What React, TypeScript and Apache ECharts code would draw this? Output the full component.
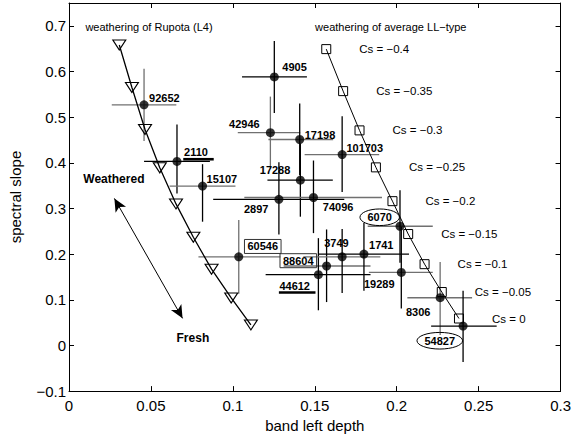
import React, { useEffect, useRef } from "react";
import * as echarts from "echarts";

// ---- meteorite samples (band left depth, spectral slope) with error ranges ----
const sampleNames = ["92652", "4905", "42946", "2110", "15107", "17198", "101703", "17288", "2897", "74096", "60546", "88604", "44612", "3749", "1741", "6070", "19289", "8306", "54827"];
const bandDepth = [0.0458, 0.1253, 0.1229, 0.0659, 0.0815, 0.1408, 0.1667, 0.1412, 0.1281, 0.1492, 0.1036, 0.1572, 0.1522, 0.1667, 0.180, 0.202, 0.2028, 0.2265, 0.2405];
const slope = [0.527, 0.588, 0.466, 0.403, 0.349, 0.451, 0.418, 0.362, 0.320, 0.324, 0.194, 0.174, 0.155, 0.194, 0.200, 0.261, 0.160, 0.1045, 0.0425];
const depthLow = [0.0261, 0.1056, 0.1030, 0.0458, 0.0614, 0.1217, 0.1438, 0.1211, 0.088, 0.107, 0.079, 0.131, 0.120, 0.143, 0.1524, 0.1823, 0.183, 0.2065, 0.221];
const depthHigh = [0.0655, 0.1452, 0.1411, 0.086, 0.1016, 0.1612, 0.1893, 0.1610, 0.168, 0.191, 0.129, 0.184, 0.184, 0.19, 0.2075, 0.222, 0.222, 0.246, 0.261];
const slopeLow = [0.448, 0.509, 0.387, 0.333, 0.271, 0.373, 0.336, 0.282, 0.243, 0.246, 0.113, 0.095, 0.077, 0.115, 0.120, 0.181, 0.081, 0.023, -0.036];
const slopeHigh = [0.606, 0.667, 0.545, 0.484, 0.397, 0.530, 0.502, 0.442, 0.401, 0.405, 0.275, 0.254, 0.235, 0.255, 0.268, 0.340, 0.260, 0.183, 0.120];

// ---- weathering model of Rupota (L4) ----
const rupotaDepth = [0.0307, 0.0384, 0.0464, 0.0554, 0.0653, 0.0759, 0.0870, 0.099, 0.111];
const rupotaSlope = [0.658, 0.565, 0.473, 0.389, 0.310, 0.237, 0.167, 0.104, 0.045];

// ---- weathering model of average LL-type ----
const llDepth = [0.157, 0.1673, 0.1773, 0.1873, 0.1974, 0.207, 0.217, 0.2275, 0.238];
const llSlope = [0.649, 0.557, 0.471, 0.390, 0.316, 0.244, 0.178, 0.117, 0.059];
const csLabels = ["Cs = \u22120.4", "Cs = \u22120.35", "Cs = \u22120.3", "Cs = \u22120.25", "Cs = \u22120.2", "Cs = \u22120.15", "Cs = \u22120.1", "Cs = \u22120.05", "Cs = 0"];

// ---- annotations ----
const noteTexts = ["weathering of Rupota (L4)", "weathering of average LL\u2212type", "Weathered", "Fresh"];
const noteDepth = [0.010, 0.1502, 0.0274, 0.0756];
const noteSlope = [0.698, 0.698, 0.365, 0.016];
const arrowStart = [0.0277, 0.322];
const arrowEnd = [0.0693, 0.0593];

// ---- styling (kept apart from data) ----
const GRAY = "#707070";
const BLACK = "#000";
const hBarColor = [GRAY, BLACK, GRAY, BLACK, GRAY, GRAY, GRAY, BLACK, BLACK, GRAY, GRAY, GRAY, BLACK, GRAY, BLACK, GRAY, GRAY, GRAY, BLACK];
const vBarColor = [GRAY, BLACK, GRAY, BLACK, BLACK, BLACK, BLACK, BLACK, BLACK, BLACK, GRAY, BLACK, BLACK, BLACK, BLACK, BLACK, BLACK, GRAY, BLACK];
// label centre offsets in px from the point, plus decoration type
const labelOffset: [number, number][] = [
  [20.3, -6.7], [20.2, -10], [-26, -8.3], [19, -9], [19.3, -7.3], [20.3, -5], [22.6, -7],
  [-25.3, -10.6], [-22.7, 9.4], [24.6, 9.3], [24, -10.4], [-28.3, -5.3], [-23.7, 11],
  [-5.7, -14], [17.3, -9.3], [-20.3, -9], [-22, 11.6], [-22, 14.4], [-23.3, 14.7],
];
const labelDeco = ["", "", "", "underline", "", "", "", "", "", "", "box", "box", "underline", "", "", "ellipse", "", "", "ellipse"];
const noteStyle = [
  { font: '11px "Liberation Sans", Arial, sans-serif', align: "left" },
  { font: '11px "Liberation Sans", Arial, sans-serif', align: "left" },
  { font: 'bold 12px "Liberation Sans", Arial, sans-serif', align: "center" },
  { font: 'bold 12px "Liberation Sans", Arial, sans-serif', align: "center" },
];

const FONT = '"Liberation Sans", Arial, sans-serif';

export default function App() {
  const ref = useRef<HTMLDivElement>(null);

  useEffect(() => {
    document.body.style.margin = "0";
    if (!ref.current) return;
    const chart = echarts.init(ref.current, undefined, { renderer: "svg" });

    const errData = sampleNames.map((_, i) => [bandDepth[i], slope[i], depthLow[i], depthHigh[i], slopeLow[i], slopeHigh[i]]);
    const pointData = sampleNames.map((_, i) => [bandDepth[i], slope[i]]);

    const frameAxis = {
      axisLine: { show: true, onZero: false, lineStyle: { color: "#000", width: 1 } },
      axisTick: { show: true, inside: true, length: 5, lineStyle: { color: "#000" } },
      splitLine: { show: false },
    };

    const option: any = {
      animation: false,
      backgroundColor: "#fff",
      grid: { left: 64, right: 12, top: 3, bottom: 41 },
      xAxis: [
        {
          type: "value", min: 0, max: 0.3, interval: 0.05, position: "bottom",
          ...frameAxis,
          axisLabel: {
            color: "#000", fontSize: 15, fontFamily: FONT, margin: 7,
            formatter: (v: number) => (Math.abs(v) < 1e-9 ? "0" : String(+v.toFixed(2))),
          },
          name: "band left depth", nameLocation: "middle", nameGap: 25,
          nameTextStyle: { color: "#000", fontSize: 15, fontFamily: FONT },
        },
        { type: "value", min: 0, max: 0.3, interval: 0.05, position: "top", ...frameAxis, axisLabel: { show: false } },
      ],
      yAxis: [
        {
          type: "value", min: -0.1, max: 0.75, interval: 0.1, position: "left",
          ...frameAxis,
          axisLabel: {
            color: "#000", fontSize: 15, fontFamily: FONT, margin: 3,
            formatter: (v: number) => {
              if (v > 0.71) return "";
              if (Math.abs(v) < 1e-9) return "0";
              const s = String(+Math.abs(v).toFixed(1));
              return v < 0 ? "\u2212" + s : s;
            },
          },
          name: "spectral slope", nameLocation: "middle", nameGap: 46,
          nameTextStyle: { color: "#000", fontSize: 15, fontFamily: FONT },
        },
        { type: "value", min: -0.1, max: 0.75, interval: 0.1, position: "right", ...frameAxis, axisLabel: { show: false } },
      ],
      series: [
        {
          type: "custom",
          name: "error bars",
          data: errData,
          encode: { x: [0, 2, 3], y: [1, 4, 5] },
          z: 2,
          renderItem: (params: any, api: any) => {
            const i = params.dataIndex;
            const x = api.value(0);
            const y = api.value(1);
            const a = api.coord([api.value(2), y]);
            const b = api.coord([api.value(3), y]);
            const c = api.coord([x, api.value(4)]);
            const d = api.coord([x, api.value(5)]);
            return {
              type: "group",
              children: [
                { type: "line", shape: { x1: a[0], y1: a[1], x2: b[0], y2: b[1] }, style: { stroke: hBarColor[i], lineWidth: 1.3 } },
                { type: "line", shape: { x1: c[0], y1: c[1], x2: d[0], y2: d[1] }, style: { stroke: vBarColor[i], lineWidth: 1.3 } },
              ],
            };
          },
        },
        {
          type: "scatter",
          name: "samples",
          data: pointData,
          symbol: "circle",
          symbolSize: 9,
          itemStyle: { color: "#000" },
          z: 4,
        },
        {
          type: "custom",
          name: "sample labels",
          data: pointData,
          z: 5,
          renderItem: (params: any, api: any) => {
            const i = params.dataIndex;
            const p = api.coord([api.value(0), api.value(1)]);
            const cx = p[0] + labelOffset[i][0];
            const cy = p[1] + labelOffset[i][1];
            const text = sampleNames[i];
            const w = text.length * 6.12;
            const children: any[] = [
              {
                type: "text", x: cx, y: cy,
                style: {
                  text, fill: "#000", font: 'bold 11px "Liberation Sans", Arial, sans-serif',
                  align: "center", verticalAlign: "middle", textAlign: "center", textVerticalAlign: "middle",
                },
              },
            ];
            const deco = labelDeco[i];
            if (deco === "underline") {
              children.push({ type: "rect", shape: { x: cx - w / 2 - 0.5, y: cy + 5.5, width: w + 6, height: 2.6 }, style: { fill: "#000" } });
            } else if (deco === "box") {
              children.push({ type: "rect", shape: { x: cx - w / 2 - 3, y: cy - 7, width: w + 6, height: 14 }, style: { fill: "none", stroke: "#333", lineWidth: 1 } });
            } else if (deco === "ellipse") {
              children.push({ type: "ellipse", shape: { cx: cx, cy: cy, rx: w / 2 + 7.5, ry: 8.3 }, style: { fill: "none", stroke: "#000", lineWidth: 1 } });
            }
            return { type: "group", children };
          },
        },
        {
          type: "line",
          name: "weathering of Rupota (L4)",
          data: rupotaDepth.map((x, i) => [x, rupotaSlope[i]]),
          symbol: "triangle",
          symbolRotate: 180,
          symbolSize: [13, 10],
          showAllSymbol: true,
          itemStyle: { color: "rgba(0,0,0,0)", borderColor: "#000", borderWidth: 1.1 },
          lineStyle: { color: "#000", width: 1.3 },
          z: 3,
          markLine: {
            silent: true,
            symbol: ["arrow", "arrow"],
            symbolSize: [9, 13],
            label: { show: false },
            lineStyle: { color: "#000", width: 1, type: "solid" },
            data: [[{ coord: arrowStart }, { coord: arrowEnd }]],
          },
        },
        {
          type: "line",
          name: "weathering of average LL-type",
          data: llDepth.map((x, i) => [x, llSlope[i]]),
          symbol: "rect",
          symbolSize: 9,
          showAllSymbol: true,
          itemStyle: { color: "rgba(0,0,0,0)", borderColor: "#000", borderWidth: 1 },
          lineStyle: { color: "#000", width: 1 },
          label: {
            show: true,
            position: "right",
            distance: 28,
            color: "#000",
            fontSize: 11.5,
            fontFamily: FONT,
            formatter: (p: any) => csLabels[p.dataIndex],
          },
          z: 3,
        },
        {
          type: "custom",
          name: "notes",
          data: noteDepth.map((x, i) => [x, noteSlope[i]]),
          z: 5,
          renderItem: (params: any, api: any) => {
            const i = params.dataIndex;
            const p = api.coord([api.value(0), api.value(1)]);
            const st = noteStyle[i];
            return {
              type: "text", x: p[0], y: p[1],
              style: {
                text: noteTexts[i], fill: "#000", font: st.font,
                align: st.align, textAlign: st.align, verticalAlign: "middle", textVerticalAlign: "middle",
              },
            };
          },
        },
      ],
    };

    chart.setOption(option);
    return () => chart.dispose();
  }, []);

  return <div ref={ref} style={{ width: 574, height: 438 }} />;
}
